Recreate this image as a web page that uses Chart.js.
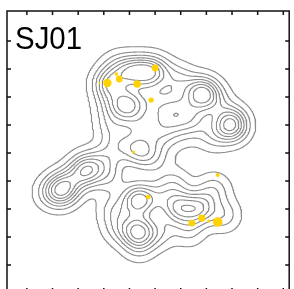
<!DOCTYPE html>
<html>
<head>
<meta charset="utf-8">
<script src="https://cdn.jsdelivr.net/npm/chart.js@4.4.0/dist/chart.umd.min.js"></script>
<style>
html, body { margin: 0; padding: 0; background: #fff; overflow: hidden; }
#wrap { width: 294px; height: 300px; }
</style>
</head>
<body>
<div id="wrap"><canvas id="chart1"></canvas></div>
<script>
// tick positions (no labels in the original)
const xTicks = [1, 2, 3, 4, 5, 6, 7, 8, 9, 10, 11];
const yTicks = [1, 2, 3, 4, 5, 6, 7, 8, 9];
const xMin = 0.225, xMax = 11.23, yMin = 0.04, yMax = 10.07;

const panelLabel = 'SJ01';

// yellow sample points
const dotX = [4.14, 4.605, 5.302, 6.0, 5.845, 4.488, 3.829, 5.147, 5.729, 8.442, 7.822, 7.434, 8.093, 8.442];
const dotY = [7.50, 7.643, 7.464, 8.036, 6.893, 7.821, 7.50, 5.036, 3.429, 4.214, 2.679, 2.50, 2.571, 2.536];
const dotR = [4.2, 3.4, 3.8, 3.4, 2.6, 1.8, 1.0, 1.6, 2.4, 2.0, 3.6, 3.4, 1.5, 4.8];

// kernel centres, weights and spread factors behind the density contours
const kernX = [4.217, 5.109, 5.729, 4.527, 6.155, 6.930, 7.822, 8.287, 8.868, 8.984, 4.915, 4.217, 6.698, 5.767, 7.512, 8.287, 4.295, 5.380, 6.155,
               4.605, 5.380, 5.961,
               4.023, 3.326, 2.744, 2.357, 1.891, 4.217,
               4.411, 5.341, 6.155, 4.605, 5.341, 6.155, 6.930, 7.705, 8.287, 6.736, 8.674, 7.318, 5.380];
const kernY = [7.464, 7.893, 7.893, 8.036, 7.893, 7.607, 7.143, 6.893, 6.250, 5.964, 6.714, 6.714, 6.393, 6.893, 6.179, 5.643, 6.000, 6.000, 5.643,
               5.286, 5.107, 4.821,
               4.750, 4.393, 4.036, 3.679, 3.571, 4.107,
               2.964, 3.321, 3.393, 2.321, 2.214, 2.179, 3.036, 3.036, 3.679, 3.857, 2.786, 2.250, 1.714];
const kernW = [1.1, 1.1, 1.1, 0.45, 0.45, 0.5, 1.45, 0.45, 0.4, 1.3, 1.45, 0.4, 1.15, 0.4, 0.4, 0.4, 0.45, 0.5, 0.35,
               0.5, 0.9, 0.4,
               0.5, 1.35, 0.45, 1.35, 0.35, 0.45,
               0.45, 1.35, 0.45, 0.45, 1.35, 0.45, 1.1, 1.1, 0.5, 0.45, 0.5, 0.4, 0.4];
const kernK = [1, 1, 1, 1, 1, 1, 1, 1, 1, 1, 1, 1, 1.5, 1, 1, 1, 1, 1, 1,
               1, 1, 1,
               1, 1, 1, 1, 1, 1,
               1, 1, 1, 1, 1, 1, 1, 1, 1, 1, 1, 1, 1];
const kernSx = 0.43, kernSy = 0.39;

// contour levels as share of the highest density
const levelShare = [0.07, 0.19, 0.31, 0.43, 0.55, 0.67, 0.8];

const density = (x, y) => {
    let s = 0;
    for (let k = 0; k < kernX.length; k++) {
        const u = (x - kernX[k]) / (kernSx * kernK[k]), v = (y - kernY[k]) / (kernSy * kernK[k]);
        s += kernW[k] * Math.exp(-0.5 * (u * u + v * v));
    }
    return s;
};

// grid of the field
const nx = 300, ny = 300;
const gx = [], gy = [];
for (let i = 0; i < nx; i++) gx.push(xMin + (xMax - xMin) * i / (nx - 1));
for (let j = 0; j < ny; j++) gy.push(yMin + (yMax - yMin) * j / (ny - 1));
const field = [];
let fieldMax = 0;
for (let j = 0; j < ny; j++) {
    const row = new Float64Array(nx);
    for (let i = 0; i < nx; i++) {
        row[i] = density(gx[i], gy[j]);
        if (row[i] > fieldMax) fieldMax = row[i];
    }
    field.push(row);
}

// marching squares, joined into polylines
const contourLine = (level) => {
    const pts = new Map(), adj = new Map();
    const above = (i, j) => field[j][i] >= level;
    const cross = (key, i1, j1, i2, j2) => {
        if (!pts.has(key)) {
            const v1 = field[j1][i1], v2 = field[j2][i2];
            const t = (level - v1) / (v2 - v1);
            pts.set(key, { x: gx[i1] + (gx[i2] - gx[i1]) * t, y: gy[j1] + (gy[j2] - gy[j1]) * t });
        }
        return key;
    };
    const link = (a, b) => {
        if (!adj.has(a)) adj.set(a, []);
        if (!adj.has(b)) adj.set(b, []);
        adj.get(a).push(b);
        adj.get(b).push(a);
    };
    for (let j = 0; j < ny - 1; j++) {
        for (let i = 0; i < nx - 1; i++) {
            const a0 = above(i, j), a1 = above(i + 1, j), a2 = above(i + 1, j + 1), a3 = above(i, j + 1);
            const e = [null, null, null, null];
            if (a0 !== a1) e[0] = cross('h' + i + ',' + j, i, j, i + 1, j);
            if (a1 !== a2) e[1] = cross('v' + (i + 1) + ',' + j, i + 1, j, i + 1, j + 1);
            if (a3 !== a2) e[2] = cross('h' + i + ',' + (j + 1), i, j + 1, i + 1, j + 1);
            if (a0 !== a3) e[3] = cross('v' + i + ',' + j, i, j, i, j + 1);
            const found = e.filter(k => k !== null);
            if (found.length === 2) {
                link(found[0], found[1]);
            } else if (found.length === 4) {
                const c = (field[j][i] + field[j][i + 1] + field[j + 1][i + 1] + field[j + 1][i]) / 4 >= level;
                if (c === a0) { link(e[0], e[1]); link(e[2], e[3]); }
                else { link(e[3], e[0]); link(e[1], e[2]); }
            }
        }
    }
    const seen = new Set();
    const out = [];
    for (const start of adj.keys()) {
        if (seen.has(start)) continue;
        let prev = null, cur = start;
        const line = [];
        while (cur && !seen.has(cur)) {
            seen.add(cur);
            line.push(pts.get(cur));
            const next = adj.get(cur).find(k => k !== prev && !seen.has(k));
            prev = cur;
            cur = next;
        }
        if (adj.get(start).includes(prev) && line.length > 2) line.push(pts.get(start));
        line.forEach(p => out.push(p));
        out.push({ x: line[line.length - 1].x, y: null });
    }
    return out;
};

const datasets = [{
    type: 'scatter',
    label: 'points',
    data: dotX.map((x, i) => ({ x: x, y: dotY[i] })),
    pointRadius: dotR,
    pointBackgroundColor: '#FFD200',
    pointBorderWidth: 0,
    order: 0
}];
levelShare.forEach(share => {
    datasets.push({
        type: 'line',
        label: 'level ' + share,
        data: contourLine(share * fieldMax),
        borderColor: '#8c8c8c',
        borderWidth: 1.1,
        pointRadius: 0,
        tension: 0,
        spanGaps: false,
        borderCapStyle: 'round',
        borderJoinStyle: 'round',
        order: 1
    });
});

// frame with inward ticks and the panel label
const framePlugin = {
    id: 'frame',
    afterDraw(chart) {
        const { ctx, chartArea: a, scales } = chart;
        ctx.save();
        ctx.strokeStyle = '#111';
        ctx.lineWidth = 1.5;
        ctx.strokeRect(a.left, a.top, a.right - a.left, a.bottom - a.top);
        ctx.beginPath();
        xTicks.forEach(v => {
            const p = scales.x.getPixelForValue(v);
            ctx.moveTo(p, a.top); ctx.lineTo(p, a.top + 4);
            ctx.moveTo(p, a.bottom); ctx.lineTo(p, a.bottom - 4);
        });
        yTicks.forEach(v => {
            const p = scales.y.getPixelForValue(v);
            ctx.moveTo(a.left, p); ctx.lineTo(a.left + 4, p);
            ctx.moveTo(a.right, p); ctx.lineTo(a.right - 4, p);
        });
        ctx.stroke();
        ctx.fillStyle = '#000';
        ctx.font = '32px "Liberation Sans", Arial, sans-serif';
        ctx.textBaseline = 'alphabetic';
        ctx.translate(15, 49);
        ctx.scale(0.92, 1);
        ctx.fillText(panelLabel, 0, 0);
        ctx.restore();
    }
};

new Chart(document.getElementById('chart1').getContext('2d'), {
    type: 'scatter',
    data: { datasets: datasets },
    options: {
        responsive: true,
        maintainAspectRatio: false,
        animation: false,
        events: [],
        layout: { padding: { left: 7, top: 11, right: 3, bottom: 8 } },
        plugins: { legend: { display: false }, tooltip: { enabled: false } },
        scales: {
            x: { type: 'linear', min: xMin, max: xMax, display: false },
            y: { type: 'linear', min: yMin, max: yMax, display: false }
        }
    },
    plugins: [framePlugin]
});
</script>
</body>
</html>
